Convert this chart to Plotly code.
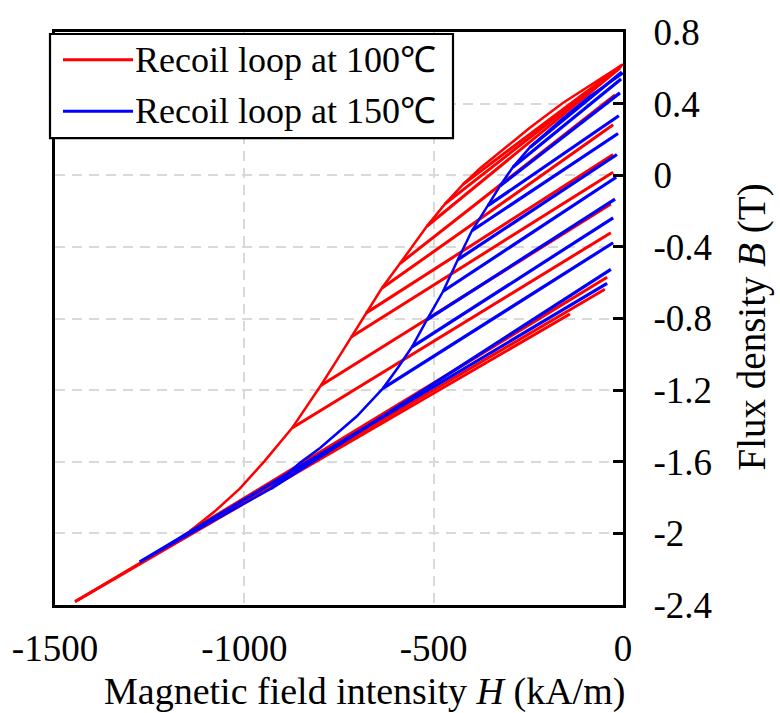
import plotly.graph_objects as go

# ---------------- data ----------------
# 100 °C major demagnetisation curve
red_curve_H = [-1447, -1328, -1223, -1144, -1078, -1012, -946, -874, -840, -798,
               -758, -718, -679, -637, -589, -518, -470, -423, -378, -333,
               -246, -159, -69, 0]
red_curve_B = [-2.381, -2.231, -2.099, -1.988, -1.877, -1.750, -1.595, -1.412, -1.307, -1.174,
               -1.041, -0.903, -0.770, -0.631, -0.493, -0.285, -0.160, -0.052, 0.038, 0.117,
               0.265, 0.404, 0.525, 0.620]

# 100 °C recoil lines: start point (on curve) -> end point (near H = 0)
red_rec_H0 = [-1447, -1223, -1144, -874, -798, -718, -679, -637, -589, -518, -470, -423]
red_rec_B0 = [-2.381, -2.099, -1.988, -1.412, -1.174, -0.903, -0.770, -0.631, -0.493, -0.285, -0.160, -0.052]
red_rec_H1 = [-140, -48, -42, -32, -32, -26, -26, -26, -21, -8, -5, -3]
red_rec_B1 = [-0.775, -0.637, -0.570, -0.321, -0.161, 0.017, 0.116, 0.282, 0.449, 0.598, 0.609, 0.615]

# 150 °C major demagnetisation curve
blue_curve_H = [-1276, -1117, -985, -930, -853, -800, -703, -634, -594, -557,
                -518, -475, -436, -399, -357, -325, -291, -246, -166, -87, 0]
blue_curve_B = [-2.159, -1.971, -1.816, -1.750, -1.606, -1.523, -1.346, -1.190, -1.074, -0.958,
                -0.808, -0.648, -0.471, -0.310, -0.170, -0.060, 0.045, 0.155, 0.305, 0.443, 0.570]

# 150 °C recoil lines
blue_rec_H0 = [-1276, -930, -634, -557, -518, -475, -436, -399, -357, -325, -291, -246]
blue_rec_B0 = [-2.159, -1.750, -1.190, -0.958, -0.808, -0.648, -0.471, -0.310, -0.170, -0.060, 0.045, 0.155]
blue_rec_H1 = [-42, -32, -26, -26, -21, -18, -16, -13, -11, -8, -5, -3]
blue_rec_B1 = [-0.604, -0.526, -0.377, -0.238, -0.133, -0.011, 0.116, 0.233, 0.332, 0.460, 0.537, 0.576]

series_names = ["Recoil loop at 100℃", "Recoil loop at 150℃"]

x_tickvals = [-1500, -1000, -500, 0]
x_ticktext = ["-1500", "-1000", "-500", "0"]
y_tickvals = [0.8, 0.4, 0, -0.4, -0.8, -1.2, -1.6, -2, -2.4]
y_ticktext = ["0.8", "0.4", "0", "-0.4", "-0.8", "-1.2", "-1.6", "-2", "-2.4"]

RED = "#ff0000"
BLUE = "#0000ff"
FONT = "Liberation Serif"

# plot-area geometry in pixels (for paper-coordinate placement of decorations)
PL, PR, PT, PB = 55, 623, 27, 605
PW, PH = PR - PL, PB - PT


def px_x(px):
    return (px - PL) / PW


def px_y(py):
    return 1 - (py - PT) / PH


def segments(h0, b0, h1, b1):
    xs, ys = [], []
    for a, b, c, d in zip(h0, b0, h1, b1):
        xs += [a, c, None]
        ys += [b, d, None]
    return xs, ys


fig = go.Figure()

rx, ry = segments(red_rec_H0, red_rec_B0, red_rec_H1, red_rec_B1)
bx, by = segments(blue_rec_H0, blue_rec_B0, blue_rec_H1, blue_rec_B1)

fig.add_trace(go.Scatter(x=red_curve_H, y=red_curve_B, mode="lines",
                         line=dict(color=RED, width=2.5), name=series_names[0]))
fig.add_trace(go.Scatter(x=rx, y=ry, mode="lines", line=dict(color=RED, width=3),
                         name=series_names[0]))
fig.add_trace(go.Scatter(x=blue_curve_H, y=blue_curve_B, mode="lines",
                         line=dict(color=BLUE, width=2.5), name=series_names[1]))
fig.add_trace(go.Scatter(x=bx, y=by, mode="lines", line=dict(color=BLUE, width=3.2),
                         name=series_names[1]))

# ---- legend box (drawn on top of the plot area) ----
shapes = [
    dict(type="rect", xref="paper", yref="paper",
         x0=px_x(50), x1=px_x(453), y0=px_y(134), y1=px_y(29),
         line=dict(color="black", width=2.2), fillcolor="white", layer="above"),
]
annotations = []
for i, (name, col) in enumerate(zip(series_names, [RED, BLUE])):
    yc = px_y(55 + 52 * i)
    shapes.append(dict(type="line", xref="paper", yref="paper",
                       x0=px_x(63), x1=px_x(133), y0=yc, y1=yc,
                       line=dict(color=col, width=3), layer="above"))
    annotations.append(dict(text=name, xref="paper", yref="paper",
                            x=px_x(133), y=yc, xanchor="left", yanchor="middle",
                            showarrow=False, font=dict(family=FONT, size=36, color="black")))

annotations += [
    dict(text="Magnetic field intensity <i>H</i> (kA/m)", xref="paper", yref="paper",
         x=px_x(364), y=px_y(692), xanchor="center", yanchor="middle", showarrow=False,
         font=dict(family=FONT, size=38)),
    dict(text="Flux density <i>B</i> (T)", xref="paper", yref="paper",
         x=px_x(752), y=px_y(325), xanchor="center", yanchor="middle", showarrow=False,
         textangle=-90, font=dict(family=FONT, size=39)),
]

fig.update_layout(
    width=780, height=713,
    margin=dict(l=PL, r=780 - PR, t=PT, b=713 - PB),
    paper_bgcolor="white", plot_bgcolor="white",
    font=dict(family=FONT, size=36, color="black"),
    showlegend=False,
    xaxis=dict(range=[-1500, 0], tickvals=x_tickvals, ticktext=x_ticktext,
               showgrid=True, gridcolor="#d9d9d9", gridwidth=2, griddash="10px,7px",
               zeroline=False, showline=True, linecolor="black", linewidth=3, mirror=True,
               ticks="", ticklabelstandoff=9,
               tickfont=dict(family=FONT, size=37)),
    yaxis=dict(range=[-2.4, 0.8], tickvals=y_tickvals, ticktext=y_ticktext, side="right",
               showgrid=True, gridcolor="#d9d9d9", gridwidth=2, griddash="10px,7px",
               zeroline=False, showline=True, linecolor="black", linewidth=3, mirror=True,
               ticks="inside", ticklen=10, tickwidth=3, tickcolor="black",
               ticklabelstandoff=20,
               tickfont=dict(family=FONT, size=37)),
    shapes=shapes,
    annotations=annotations,
)

fig.write_html("out.html")
